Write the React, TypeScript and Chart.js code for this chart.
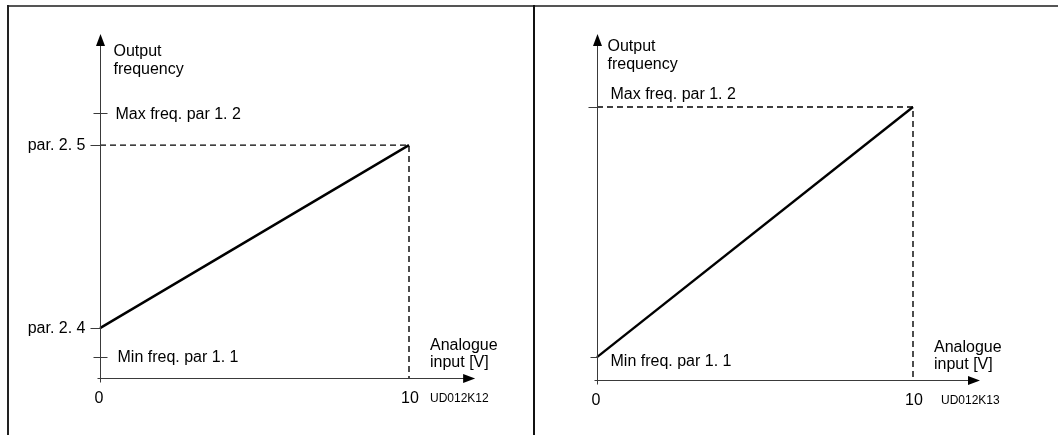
import React, { useEffect, useRef } from "react";
import { Chart, registerables } from "chart.js";

Chart.register(...registerables);

const FONT = '"Liberation Sans", Arial, Helvetica, sans-serif';

// ---------- data: left diagram (UD012K12) ----------
const leftInputV = [0, 10];
const leftOutput = [14.5, 67.7]; // par. 2.4 -> par. 2.5
const leftMarkLabels = ["Min freq. par 1. 1", "par. 2. 4", "par. 2. 5", "Max freq. par 1. 2"];
const leftMarkValues = [6.1, 14.5, 67.7, 77.0];
const leftCode = "UD012K12";
const leftAxisEndV = 12.14;

// ---------- data: right diagram (UD012K13) ----------
const rightInputV = [0, 10];
const rightOutput = [6.6, 78.9]; // Min freq -> Max freq
const rightMarkLabels = ["Min freq. par 1. 1", "Max freq. par 1. 2"];
const rightMarkValues = [6.6, 78.9];
const rightCode = "UD012K13";
const rightAxisEndV = 12.12;

// ---------- shared ----------
const xTickLabels = ["0", "10"];
const xTickValues = [0, 10];
const yAxisTitle = ["Output", "frequency"];
const xAxisTitle = ["Analogue", "input [V]"];
const yAxisTop = 100;

type MarkStyle = { t0: number; t1: number; dx: number; dy: number; align: CanvasTextAlign };

const overlayPlugin = {
  id: "diagramOverlay",
  afterDatasetsDraw(chart: any, _args: any, opts: any) {
    const ctx: CanvasRenderingContext2D = chart.ctx;
    const xs = chart.scales.x;
    const ys = chart.scales.y;
    const x0 = Math.round(xs.getPixelForValue(0)) + 0.5;
    const y0 = Math.round(ys.getPixelForValue(0)) + 0.5;
    const yTop = ys.getPixelForValue(yAxisTop);
    const xEnd = xs.getPixelForValue(opts.axisEnd);
    ctx.save();
    // axes
    ctx.strokeStyle = "#3a3a3a";
    ctx.lineWidth = 1;
    ctx.beginPath();
    ctx.moveTo(x0, y0 + 4);
    ctx.lineTo(x0, yTop + 8);
    ctx.moveTo(x0 - 3, y0);
    ctx.lineTo(xEnd - 8, y0);
    ctx.stroke();
    ctx.fillStyle = "#000";
    ctx.beginPath();
    ctx.moveTo(x0, yTop);
    ctx.lineTo(x0 - 4.5, yTop + 12);
    ctx.lineTo(x0 + 4.5, yTop + 12);
    ctx.closePath();
    ctx.fill();
    ctx.beginPath();
    ctx.moveTo(xEnd, y0);
    ctx.lineTo(xEnd - 12, y0 - 4.5);
    ctx.lineTo(xEnd - 12, y0 + 4.5);
    ctx.closePath();
    ctx.fill();

    // value marks on the frequency axis
    ctx.font = `16px ${FONT}`;
    ctx.textBaseline = "middle";
    opts.labels.forEach((label: string, i: number) => {
      const st: MarkStyle = opts.styles[i];
      const y = Math.round(ys.getPixelForValue(opts.values[i])) + 0.5;
      ctx.strokeStyle = "#3a3a3a";
      ctx.beginPath();
      ctx.moveTo(x0 + st.t0, y);
      ctx.lineTo(x0 + st.t1, y);
      ctx.stroke();
      ctx.fillStyle = "#000";
      ctx.textAlign = st.align;
      ctx.fillText(label, x0 + st.dx, y + st.dy);
    });

    // axis titles
    ctx.textAlign = "left";
    yAxisTitle.forEach((t, i) => {
      ctx.fillText(t, x0 + opts.yTitleDx, yTop + opts.yTitleDy + i * 18);
    });
    const x10 = xs.getPixelForValue(10);
    xAxisTitle.forEach((t, i) => {
      ctx.fillText(t, x10 + 21, y0 - 33 + i * 17);
    });
    // x tick labels
    ctx.textAlign = "center";
    xTickLabels.forEach((t, i) => {
      ctx.fillText(t, xs.getPixelForValue(xTickValues[i]) + (i === 0 ? -1 : 1), y0 + 20);
    });
    // drawing code
    ctx.font = `12px ${FONT}`;
    ctx.textAlign = "left";
    ctx.fillText(opts.code, x10 + opts.codeDx, y0 + 20);
    ctx.restore();
  },
};

type DiagramProps = {
  left: number;
  width: number;
  padding: { left: number; right: number; top: number; bottom: number };
  inputV: number[];
  output: number[];
  guideY: number;
  overlay: any;
};

function Diagram(p: DiagramProps) {
  const ref = useRef<HTMLCanvasElement>(null);
  useEffect(() => {
    const line = p.inputV.map((v, i) => ({ x: v, y: p.output[i] }));
    const guide = [
      { x: p.inputV[0], y: p.guideY },
      { x: p.inputV[1], y: p.guideY },
      { x: p.inputV[1], y: 0 },
    ];
    const chart = new Chart(ref.current as HTMLCanvasElement, {
      type: "line",
      data: {
        datasets: [
          {
            data: guide,
            borderColor: "#000",
            borderWidth: 1.4,
            borderDash: [6, 4],
            pointRadius: 0,
            fill: false,
            tension: 0,
            clip: false as any,
          },
          {
            data: line,
            borderColor: "#000",
            borderWidth: 2.4,
            pointRadius: 0,
            fill: false,
            tension: 0,
            clip: false as any,
          },
        ],
      },
      options: {
        animation: false,
        responsive: false,
        events: [],
        layout: { padding: p.padding },
        scales: {
          x: { type: "linear", min: 0, max: 10, display: false },
          y: { type: "linear", min: 0, max: yAxisTop, display: false },
        },
        plugins: {
          legend: { display: false },
          tooltip: { enabled: false },
          diagramOverlay: p.overlay,
        } as any,
      },
      plugins: [overlayPlugin],
    });
    return () => chart.destroy();
  }, []);
  return (
    <div style={{ position: "absolute", left: p.left, top: 0, width: p.width, height: 435 }}>
      <canvas ref={ref} width={p.width} height={435} style={{ display: "block" }} />
    </div>
  );
}

export default function App() {
  const leftStyles: MarkStyle[] = [
    { t0: -7, t1: 7, dx: 17, dy: 0, align: "left" },
    { t0: -10, t1: 0, dx: -15, dy: 0, align: "right" },
    { t0: -10, t1: 0, dx: -15, dy: 0, align: "right" },
    { t0: -7, t1: 7, dx: 15, dy: 1, align: "left" },
  ];
  const rightStyles: MarkStyle[] = [
    { t0: -7, t1: 0, dx: 13, dy: 4, align: "left" },
    { t0: -9, t1: 0, dx: 13, dy: -13, align: "left" },
  ];
  return (
    <div style={{ position: "fixed", left: 0, top: 0, width: 1058, height: 435, background: "#fff", overflow: "hidden" }}>
      <Diagram
        left={0}
        width={533}
        padding={{ left: 100, right: 124, top: 34, bottom: 57 }}
        inputV={leftInputV}
        output={leftOutput}
        guideY={leftMarkValues[2]}
        overlay={{
          labels: leftMarkLabels,
          values: leftMarkValues,
          styles: leftStyles,
          code: leftCode,
          axisEnd: leftAxisEndV,
          yTitleDx: 13,
          yTitleDy: 18,
          codeDx: 21,
        }}
      />
      <Diagram
        left={533}
        width={525}
        padding={{ left: 64, right: 145, top: 34, bottom: 55 }}
        inputV={rightInputV}
        output={rightOutput}
        guideY={rightMarkValues[1]}
        overlay={{
          labels: rightMarkLabels,
          values: rightMarkValues,
          styles: rightStyles,
          code: rightCode,
          axisEnd: rightAxisEndV,
          yTitleDx: 10,
          yTitleDy: 13,
          codeDx: 28,
        }}
      />
      <div style={{ position: "absolute", left: 7, top: 5, width: 1051, height: 2, background: "#555" }} />
      <div style={{ position: "absolute", left: 7, top: 5, width: 2, height: 430, background: "#222" }} />
      <div style={{ position: "absolute", left: 533, top: 5, width: 2, height: 430, background: "#111" }} />
    </div>
  );
}
